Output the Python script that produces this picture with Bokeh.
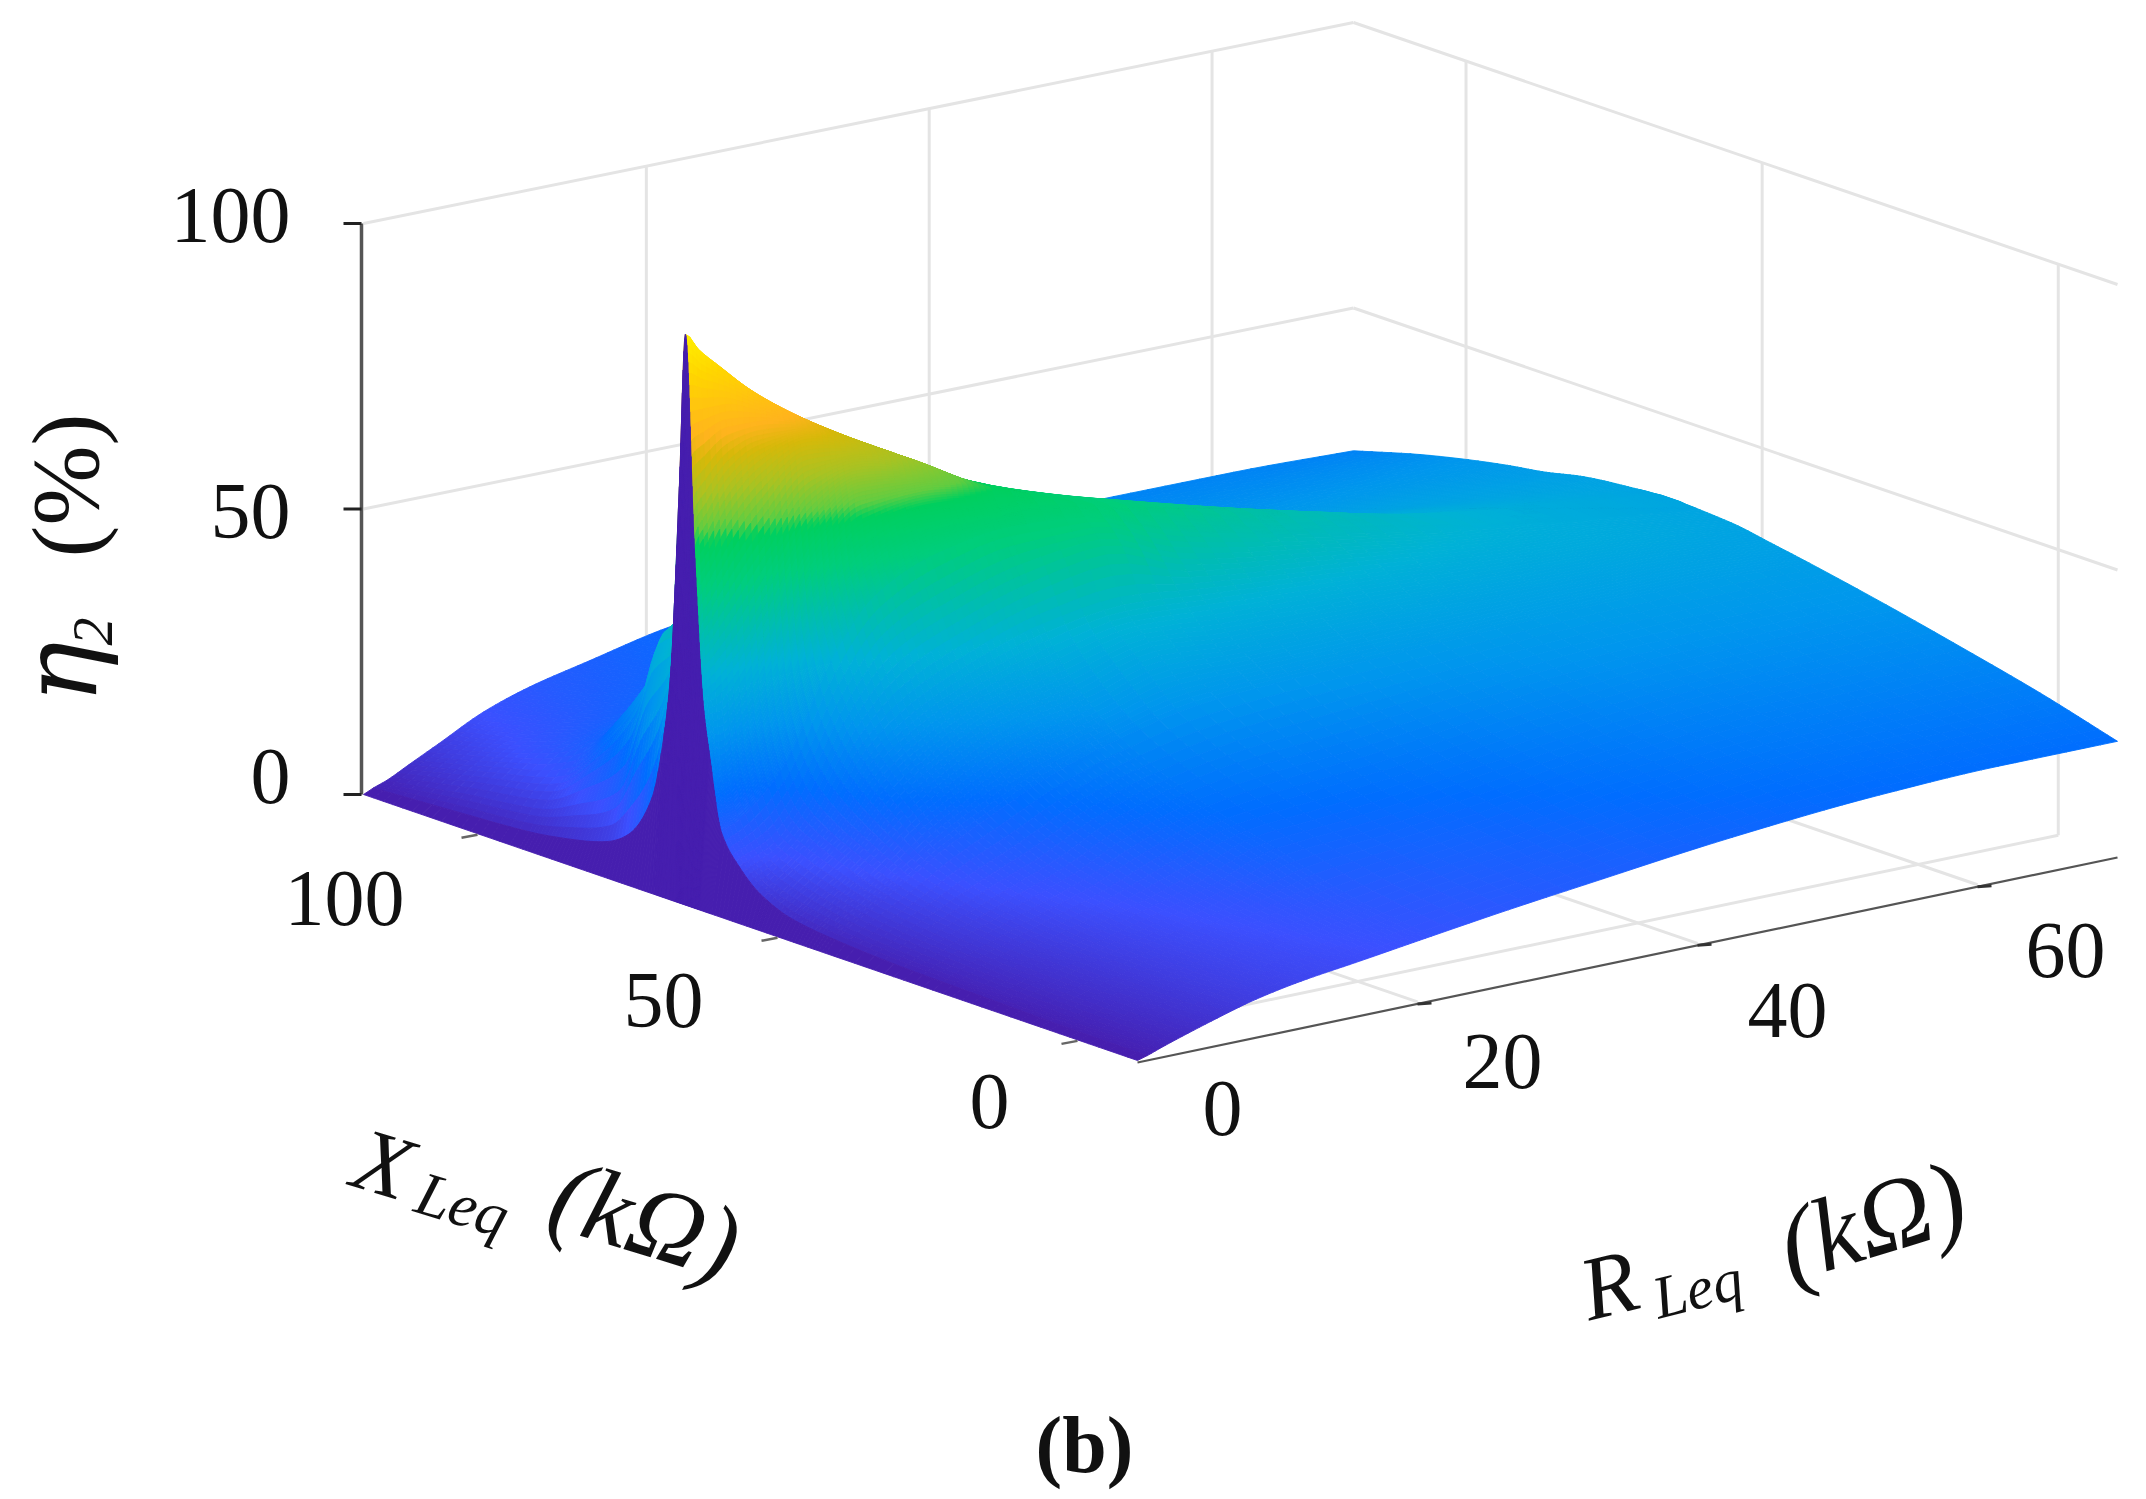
import numpy as np
from bokeh.plotting import figure
from bokeh.models import ColumnDataSource, Range1d
from bokeh.core.properties import value
from bokeh.embed import file_html
from bokeh.resources import INLINE

# ---------- data ----------
R_TICKS = [0, 20, 40, 60]
X_TICKS = [0, 50, 100]
Z_TICKS = [0, 50, 100]
R_LIM = (0.0, 70.0)
X_LIM = (-10.0, 119.0)

R_ROWS = [0, 0.7, 1.6, 3.2, 5.3, 8.5, 11.7, 16, 21, 26.5, 32, 42.5, 53, 61.5, 70]
X_COLS = [-10, 3, 16, 29, 42, 49, 54.5, 58, 61, 63, 64, 65.5, 67, 68, 69.5, 70.5, 72.5, 76.5, 80, 87, 93, 106, 119]

ETA_R00 = [0] * 23
ETA_R01 = [.5, .6, .9, 1.2, 2, 3, 5.5, 9, 14, 27, 35, 62, 99, 72, 38, 28, 16, 8, 5.5, 3.5, 2.5, 1.6, .8]
ETA_R02 = [1.3, 1.4, 1.8, 2.4, 3.6, 5, 7, 10, 15, 22, 36, 66, 96, 72, 52, 42, 33, 24, 14, 9, 6, 4, 1.6]
ETA_R03 = [2.6, 2.9, 3.3, 4.3, 6, 8, 10, 12, 18, 26, 40, 72, 92, 78, 62, 54, 46, 42, 30, 18, 11, 7, 3.6]
ETA_R04 = [4.2, 4.4, 4.9, 6.3, 9, 12, 15, 18, 24, 34, 48, 76, 87, 80, 68, 60, 50, 44, 36, 24, 16, 10, 6.2]
ETA_R05 = [6.4, 6.7, 7.3, 9.2, 14, 20, 26, 32, 40, 50, 62, 78, 81, 76, 66, 56, 46, 40, 34, 26, 19, 13, 10.2]
ETA_R06 = [7.9, 8.4, 9.4, 12, 18, 25, 32, 41, 50, 59, 68, 75, 76, 70, 60, 50, 42, 36, 32, 26, 20, 15.5, 12.9]
ETA_R07 = [9.3, 10.5, 12.5, 17, 23, 30, 37, 46, 55, 62, 67, 70, 70, 62, 52, 44, 38, 33, 30, 25, 21, 17.5, 15.4]
ETA_R08 = [11, 13, 17, 21, 27, 33, 41, 50, 57, 61, 63, 63, 63, 55, 46, 39, 34, 30, 28, 25, 22, 19.5, 18.2]
ETA_R09 = [12.8, 15, 18, 23, 30, 37, 43, 52, 56, 58, 58, 58, 58, 50, 43, 37, 33, 29, 27, 25, 23, 21.3, 20.2]
ETA_R10 = [14.4, 16.5, 19.5, 24, 31, 36, 42, 47, 51, 53, 54, 54, 54, 48, 42, 37, 33, 30, 28, 26, 24.5, 23, 22]
ETA_R11 = [17.3, 20, 23, 27, 32, 36, 40, 43, 45, 46, 46.5, 47, 47, 46, 44.5, 43, 40, 36, 33, 30, 28.5, 26.5, 24.5]
ETA_R12 = [19.3, 22.5, 25.5, 29, 33, 35.5, 38, 39.5, 40.5, 41, 41, 41, 41, 40.5, 40, 39.5, 38.5, 37, 35.5, 33, 31, 28, 25.5]
ETA_R13 = [20, 23, 26.3, 29.5, 33.3, 35.5, 37, 37.5, 37.8, 38, 38, 38, 38, 37.8, 37.5, 37.2, 36.7, 35.6, 34.7, 33, 31.5, 28.3, 25.5]
ETA_R14 = [20, 23.8, 27, 30, 32.7, 34, 35, 35.3, 35.5, 35.6, 35.7, 35.7, 35.7, 35.6, 35.5, 35.4, 35.2, 34.8, 34.3, 32.7, 31.7, 28.8, 25]
ETA_ROWS = [ETA_R00, ETA_R01, ETA_R02, ETA_R03, ETA_R04, ETA_R05, ETA_R06, ETA_R07,
            ETA_R08, ETA_R09, ETA_R10, ETA_R11, ETA_R12, ETA_R13, ETA_R14]

COLOR_Z = [0, 10, 20, 30, 40, 47, 55, 62.5, 65, 71, 77, 81, 92, 99]
COLOR_R = [70, 60, 0, 0, 0, 0, 0, 0, 100, 170, 215, 255, 255, 255]
COLOR_G = [30, 80, 110, 150, 178, 190, 206, 208, 205, 195, 185, 180, 215, 240]
COLOR_B = [175, 255, 255, 238, 215, 175, 125, 95, 65, 35, 10, 30, 0, 0]

# ---------- the oblique axes: page pixels of the floor corners ----------
FRONT = np.array([1137.0, 1060.0])
RIGHT = np.array([2117.0, 855.0])
LEFT = np.array([363.0, 794.0])
BACK = np.array([1353.0, 593.0])
Z_PX = 5.71


def project(r, x, z):
    r, x, z = np.asarray(r, float), np.asarray(x, float), np.asarray(z, float)
    u = (r - R_LIM[0]) / (R_LIM[1] - R_LIM[0])
    v = (x - X_LIM[0]) / (X_LIM[1] - X_LIM[0])
    px = FRONT[0] * (1 - u) * (1 - v) + RIGHT[0] * u * (1 - v) + LEFT[0] * (1 - u) * v + BACK[0] * u * v
    py = FRONT[1] * (1 - u) * (1 - v) + RIGHT[1] * u * (1 - v) + LEFT[1] * (1 - u) * v + BACK[1] * u * v
    return px, py - Z_PX * z


def refine(axis, step_of):
    out = [axis[0]]
    for a, b in zip(axis[:-1], axis[1:]):
        n = max(1, int(np.ceil((b - a) / step_of(0.5 * (a + b)))))
        out.extend(list(a + (b - a) * np.arange(1, n + 1) / n))
    return np.array(out, float)


def pchip(xq, xk, yk):
    """Monotone cubic drawing of a table line between its read values."""
    xk, yk = np.asarray(xk, float), np.asarray(yk, float)
    h = np.diff(xk)
    d = np.diff(yk) / h
    m = np.zeros_like(yk)
    for k in range(1, len(xk) - 1):
        if d[k - 1] * d[k] > 0:
            w1 = 2 * h[k] + h[k - 1]
            w2 = h[k] + 2 * h[k - 1]
            m[k] = (w1 + w2) / (w1 / d[k - 1] + w2 / d[k])
    m[0], m[-1] = d[0], d[-1]
    idx = np.clip(np.searchsorted(xk, xq, side="right") - 1, 0, len(h) - 1)
    t = (xq - xk[idx]) / h[idx]
    return ((2 * t**3 - 3 * t**2 + 1) * yk[idx] + (t**3 - 2 * t**2 + t) * h[idx] * m[idx]
            + (-2 * t**3 + 3 * t**2) * yk[idx + 1] + (t**3 - t**2) * h[idx] * m[idx + 1])


def hex_color(z):
    r = np.interp(z, COLOR_Z, COLOR_R)
    g = np.interp(z, COLOR_Z, COLOR_G)
    b = np.interp(z, COLOR_Z, COLOR_B)
    return "#%02x%02x%02x" % (int(r), int(g), int(b))


p = figure(width=2130, height=1491, output_backend="svg", toolbar_location=None,
           x_range=Range1d(0, 2130), y_range=Range1d(1491, 0),
           min_border=0, outline_line_color=None, background_fill_color="white")
p.axis.visible = False
p.grid.visible = False

# ---------- walls and floor grid ----------
GRID = "#e4e4e4"
gx, gy = [], []


def grid_line(r, x, z):
    a, b = project(r, x, z)
    gx.append(list(a))
    gy.append(list(b))


for z in [50, 100]:
    grid_line([R_LIM[0], R_LIM[1]], [X_LIM[1], X_LIM[1]], [z, z])
    grid_line([R_LIM[1], R_LIM[1]], [X_LIM[1], X_LIM[0]], [z, z])
for r in R_TICKS[1:]:
    grid_line([r, r], [X_LIM[1], X_LIM[1]], [0, 100])
    grid_line([r, r], [X_LIM[0], X_LIM[1]], [0, 0])
for x in X_TICKS:
    grid_line([R_LIM[1], R_LIM[1]], [x, x], [0, 100])
    grid_line([R_LIM[0], R_LIM[1]], [x, x], [0, 0])
p.multi_line(gx, gy, line_color=GRID, line_width=3)

# ---------- surface, drawn back to front ----------
rf = refine(R_ROWS, lambda r: 1.0 if r < 0.7 else (0.45 if r < 20 else 1.4))
xf = refine(X_COLS, lambda x: 0.08 if 63 < x < 67 else (0.14 if 61 < x < 71 else (0.6 if 45 < x < 95 else 1.8)))
tmp = np.array([pchip(xf, X_COLS, row) for row in ETA_ROWS])
zf = np.array([pchip(rf, R_ROWS, tmp[:, j]) for j in range(len(xf))]).T
RR, XX = np.meshgrid(rf, xf, indexing="ij")
PX, PY = project(RR, XX, zf)

xs, ys, cs = [], [], []
for i in range(len(rf) - 2, -1, -1):
    for j in range(len(xf) - 2, -1, -1):
        xs.append([PX[i, j], PX[i + 1, j], PX[i + 1, j + 1], PX[i, j + 1]])
        ys.append([PY[i, j], PY[i + 1, j], PY[i + 1, j + 1], PY[i, j + 1]])
        # facet colour comes from the row nearest the front, as in faceted shading
        zc = 0.0 if i == 0 else 0.25 * (zf[i, j] + zf[i + 1, j] + zf[i + 1, j + 1] + zf[i, j + 1])
        cs.append(hex_color(zc))
p.patches("xs", "ys", source=ColumnDataSource(dict(xs=xs, ys=ys, c=cs)),
          fill_color="c", line_color="c", line_width=0.9)

# ---------- axes ----------
AXIS = "#555555"
zx, zy = project([0, 0], [X_LIM[1], X_LIM[1]], [0, 100])
p.line(zx - 2, zy, line_color=AXIS, line_width=3.5)
tx, ty = project([0] * 3, [X_LIM[1]] * 3, Z_TICKS)
p.segment(tx - 20, ty, tx - 2, ty, line_color="#222222", line_width=3)
ax, ay = project(R_LIM, [X_LIM[0], X_LIM[0]], [0, 0])
p.line(ax, ay + 2, line_color=AXIS, line_width=2.2)
rx, ry = project(R_TICKS[1:], [X_LIM[0]] * 3, [0] * 3)
p.segment(rx, ry + 2, rx + 14, ry + 1, line_color="#333333", line_width=3)
qx, qy = project([0] * 3, X_TICKS, [0] * 3)
p.segment(qx - 16, qy + 4, qx, qy + 1, line_color="#666666", line_width=2.5)

# ---------- texts ----------
SERIF = value("Liberation Serif")
TICK_PT = "80px"


def label(x, y, s, size=TICK_PT, angle=0.0, style="normal", align="center", baseline="middle", font=SERIF):
    p.text([x], [y], text=value(s), text_font=font, text_font_size=value(size), text_color="#111111",
           text_font_style=style, angle=angle, angle_units="deg", text_align=align, text_baseline=baseline)


Z_LABEL_DY = [-18, 2, -8]
for z, d, py_ in zip(Z_TICKS, Z_LABEL_DY, ty):
    label(290, py_ + d, str(z), align="right")
X_LABEL_DX = [-88, -114, -133]
X_LABEL_DY = [62, 64, 65]
for x, dx, dy, a, b in zip(X_TICKS, X_LABEL_DX, X_LABEL_DY, *project([0] * 3, X_TICKS, [0] * 3)):
    label(a + dx, b + dy, str(x))
R_LABEL_DX = [85, 85, 90, 88]
R_LABEL_DY = [48, 60, 67, 66]
for r, dx, dy, a, b in zip(R_TICKS, R_LABEL_DX, R_LABEL_DY, *project(R_TICKS, [X_LIM[0]] * 4, [0] * 4)):
    label(a + dx, b + dy, str(r))

label(59, 672, "η", size="104px", angle=90, style="italic", baseline="middle", font=value("DejaVu Serif"))
label(92, 631, "2", size="56px", angle=90, style="italic")
label(65, 485, "(%)", size="96px", angle=90)

label(383, 1163, "X", size="90px", angle=-17, style="italic")
label(462, 1204, "Leq", size="62px", angle=-17, style="italic")
label(645, 1218, "(kΩ)", size="104px", angle=-17, style="italic")

label(1608, 1284, "R", size="90px", angle=14, style="italic")
label(1697, 1288, "Leq", size="60px", angle=14, style="italic")
label(1871, 1220, "(kΩ)", size="104px", angle=17, style="italic")

label(1084, 1444, "(b)", size="80px", style="bold")

open("out.html", "w").write(file_html(p, INLINE))
